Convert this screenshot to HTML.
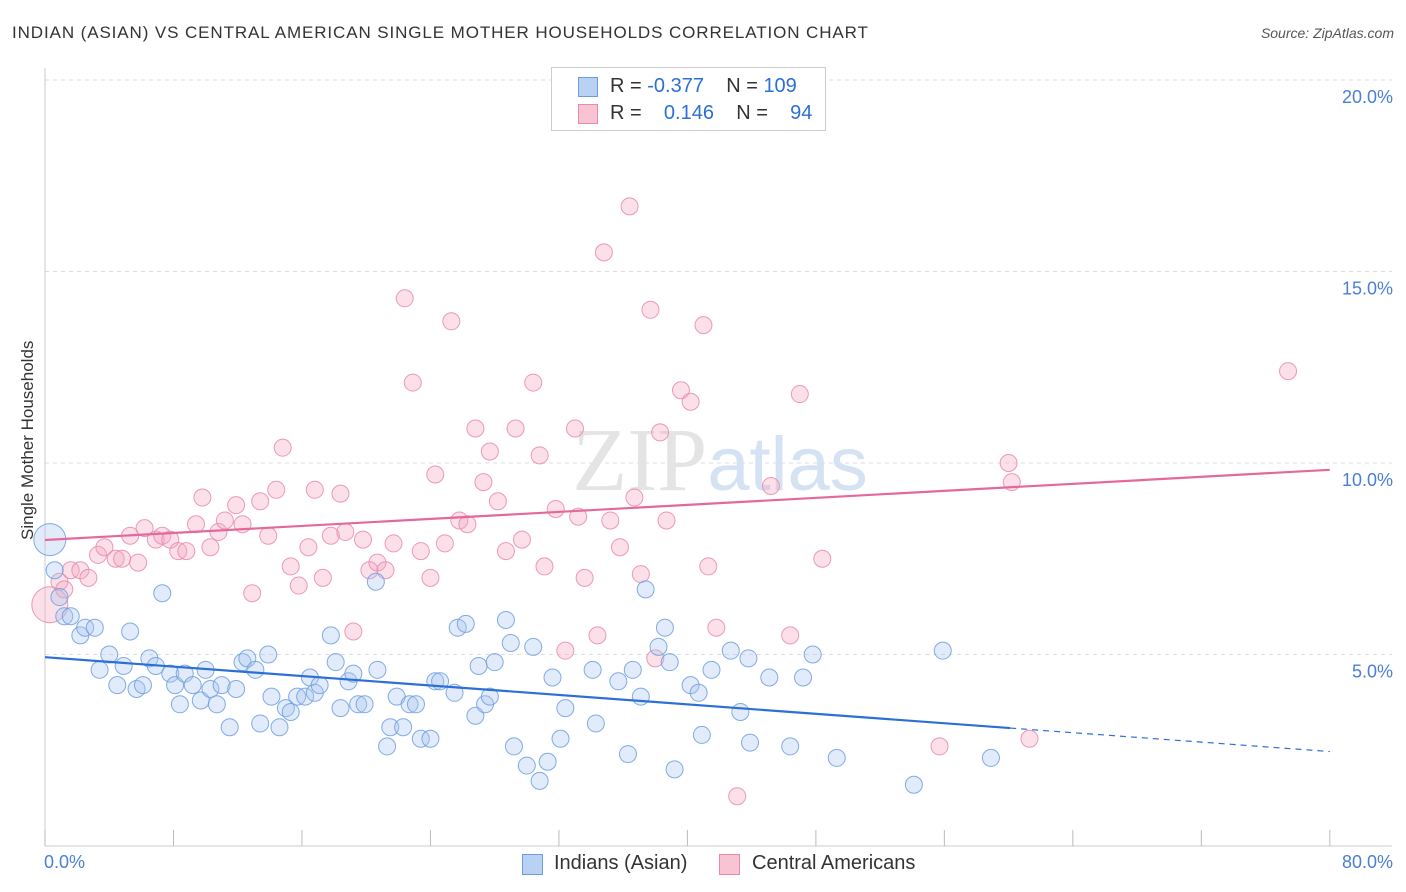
<!DOCTYPE html>
<html><head><meta charset="utf-8">
<style>
body{margin:0;background:#fff;font-family:"Liberation Sans",sans-serif;}
#wrap{position:relative;width:1406px;height:892px;overflow:hidden;}
.t{position:absolute;white-space:nowrap;}
</style></head>
<body>
<div id="wrap">
<div class="t" style="left:12px;top:23px;font-size:17px;letter-spacing:0.9px;color:#333;">INDIAN (ASIAN) VS CENTRAL AMERICAN SINGLE MOTHER HOUSEHOLDS CORRELATION CHART</div>
<div class="t" style="right:12px;top:25px;font-size:14px;color:#555;font-style:italic;">Source: ZipAtlas.com</div>
<svg id="svg" width="1406" height="892" style="position:absolute;left:0;top:0"></svg>
</div>
<script>
const blueX=[0.3,0.6,0.9,1.2,1.6,2.2,2.5,3.1,3.4,4.0,4.5,4.9,5.3,5.7,6.1,6.5,6.9,7.3,7.8,8.1,8.4,8.7,9.2,9.7,10.0,10.3,10.7,11.0,11.5,11.9,12.3,12.6,13.1,13.4,13.9,14.1,14.6,15.0,15.3,15.7,16.2,16.5,16.8,17.1,17.8,18.1,18.4,18.9,19.2,19.5,19.9,20.6,20.7,21.3,21.5,21.9,22.3,22.7,23.1,23.4,24.0,24.3,24.6,25.5,25.7,26.2,26.8,27.0,27.4,27.7,28.0,28.7,29.0,29.2,30.0,30.4,30.8,31.3,31.6,32.1,32.4,34.1,34.3,35.7,36.3,36.6,37.1,37.4,38.2,38.6,38.9,39.2,40.2,40.7,40.9,41.5,42.7,43.3,43.8,43.9,45.1,46.4,47.2,47.8,49.3,54.1,55.9,58.9];
const blueY=[8.0,7.2,6.5,6.0,6.0,5.5,5.7,5.7,4.6,5.0,4.2,4.7,5.6,4.1,4.2,4.9,4.7,6.6,4.5,4.2,3.7,4.5,4.2,3.8,4.6,4.1,3.7,4.2,3.1,4.1,4.8,4.9,4.6,3.2,5.0,3.9,3.1,3.6,3.5,3.9,3.9,4.4,4.0,4.2,5.5,4.8,3.6,4.3,4.5,3.7,3.7,6.9,4.6,2.6,3.1,3.9,3.1,3.7,3.7,2.8,2.8,4.3,4.3,4.0,5.7,5.8,3.4,4.7,3.7,3.9,4.8,5.9,5.3,2.6,2.1,5.2,1.7,2.2,4.4,2.8,3.6,4.6,3.2,4.3,2.4,4.6,3.9,6.7,5.2,5.7,4.8,2.0,4.2,4.0,2.9,4.6,5.1,3.5,4.9,2.7,4.4,2.6,4.4,5.0,2.3,1.6,5.1,2.3];
const pinkX=[0.3,0.9,1.2,1.6,2.2,2.7,3.3,3.7,4.4,4.8,5.3,5.8,6.2,6.9,7.3,7.8,8.3,8.8,9.4,9.8,10.3,10.8,11.2,11.9,12.3,12.9,13.4,13.9,14.4,14.8,15.3,15.8,16.4,16.8,17.3,17.8,18.4,18.7,19.2,19.8,20.2,20.7,21.2,21.7,22.4,22.9,23.4,24.0,24.3,24.9,25.3,25.8,26.3,26.8,27.3,27.7,28.2,28.7,29.3,29.7,30.4,30.8,31.1,31.8,32.4,33.0,33.2,33.6,34.4,34.8,35.2,35.8,36.4,36.7,37.1,37.7,38.0,38.3,38.7,39.6,40.2,41.0,41.3,41.8,43.1,45.2,46.4,47.0,48.4,55.7,60.0,60.2,61.3,77.4];
const pinkY=[6.3,6.9,6.7,7.2,7.2,7.0,7.6,7.8,7.5,7.5,8.1,7.4,8.3,8.0,8.1,8.0,7.7,7.7,8.4,9.1,7.8,8.2,8.5,8.9,8.4,6.6,9.0,8.1,9.3,10.4,7.3,6.8,7.8,9.3,7.0,8.1,9.2,8.2,5.6,8.0,7.2,7.4,7.2,7.9,14.3,12.1,7.7,7.0,9.7,7.9,13.7,8.5,8.4,10.9,9.5,10.3,9.0,7.7,10.9,8.0,12.1,10.2,7.3,8.8,5.1,10.9,8.6,7.0,5.5,15.5,8.5,7.8,16.7,9.1,7.1,14.0,4.9,10.8,8.5,11.9,11.6,13.6,7.3,5.7,1.3,9.4,5.5,11.8,7.5,2.6,10.0,9.5,2.8,12.4];
const yTicks=[5,10,15,20];
const yTickLabels=["5.0%","10.0%","15.0%","20.0%"];
const xTicks=[0,8,16,24,32,40,48,56,64,72,80];
const blueTrend=[4.93,-0.0308];
const pinkTrend=[7.99,0.0229];
const blueSolidEnd=60.1;

const X=v=>45+v*16.06, Y=v=>846-v*38.3;
const svg=document.getElementById('svg'), NS='http://www.w3.org/2000/svg';
function mk(tag,attrs,parent){const e=document.createElementNS(NS,tag);for(const k in attrs)e.setAttribute(k,attrs[k]);(parent||svg).appendChild(e);return e;}
yTicks.forEach((t,i)=>{
 const g=mk('line',{x1:45,x2:1392,y1:Y(t),y2:Y(t),stroke:'#ddd','stroke-dasharray':'4,4'});
 
 
 const tx=mk('text',{x:1393,y:Y(t)+23,'text-anchor':'end',fill:'#4a7fd6','font-size':18,'font-family':'Liberation Sans'});
 tx.textContent=yTickLabels[i];
 
 
});
const topGrid=mk('line',{x1:45,x2:1392,y1:80,y2:80,stroke:'#ddd','stroke-dasharray':'4,4'});


const ya=mk('line',{x1:45,x2:45,y1:68,y2:846,stroke:'#ccc'});


const xa=mk('line',{x1:45,x2:1392,y1:846,y2:846,stroke:'#ccc'});


xTicks.forEach(t=>{
 const l=mk('line',{x1:X(t),x2:X(t),y1:830,y2:846,stroke:'#bbb'});
 
 
});
const wm=mk('text',{x:720,y:490,'text-anchor':'middle','font-size':90,'font-family':'Liberation Serif',fill:'#e4e4e4'});
wm.innerHTML='ZIP<tspan fill="#d4e2f4" font-family="Liberation Sans" font-size="76">atlas</tspan>';


function pts(xs,ys,fill,stroke,name){
 xs.forEach((x,i)=>{
  const r=(i===0)?(name==='blue-point'?16:18):8.5;
  const c=mk('circle',{cx:X(x),cy:Y(ys[i]),r:r,fill:fill,stroke:stroke,'stroke-width':1,'fill-opacity':0.35,'stroke-opacity':0.85});
  
  
 });
}
pts(pinkX,pinkY,'#f4a7bf','#e98aa9','pink-point');
pts(blueX,blueY,'#a9c6ef','#6d9de0','blue-point');
const bt=x=>blueTrend[0]+blueTrend[1]*x, pt=x=>pinkTrend[0]+pinkTrend[1]*x;
const bl=mk('line',{x1:X(0),y1:Y(bt(0)),x2:X(blueSolidEnd),y2:Y(bt(blueSolidEnd)),stroke:'#2c6fd6','stroke-width':2.2});


const bd=mk('line',{x1:X(blueSolidEnd),y1:Y(bt(blueSolidEnd)),x2:X(80),y2:Y(bt(80)),stroke:'#2c6fd6','stroke-width':1.2,'stroke-dasharray':'6,5'});


const pl=mk('line',{x1:X(0),y1:Y(pt(0)),x2:X(80),y2:Y(pt(80)),stroke:'#e4699a','stroke-width':2.2});


</script>
<div class="t" style="left:-57px;top:445px;font-size:17px;color:#333;transform:rotate(-90deg);width:170px;text-align:center;">Single Mother Households</div>
<div class="t" style="left:44px;top:852px;font-size:18px;color:#4a7fd6;">0.0%</div>
<div class="t" style="right:13px;top:852px;font-size:18px;color:#4a7fd6;">80.0%</div>
<div style="position:absolute;left:551px;top:67px;width:273px;height:62px;border:1px solid #ccc;background:#fff;font-size:20px;color:#333;">
 <div style="position:absolute;left:26px;top:9px;width:18px;height:18px;background:#b9d2f3;border:1px solid #6d9de0;"></div>
 <div class="t" style="left:58px;top:7px;">R = <span style="color:#2c6fd6">-0.377</span>&nbsp;&nbsp;&nbsp;&nbsp;N = <span style="color:#2c6fd6">109</span></div>
 <div style="position:absolute;left:26px;top:36px;width:18px;height:18px;background:#f8c3d3;border:1px solid #e98aa9;"></div>
 <div class="t" style="left:58px;top:34px;">R = &nbsp;&nbsp;&nbsp;<span style="color:#2c6fd6">0.146</span>&nbsp;&nbsp;&nbsp;&nbsp;N = &nbsp;&nbsp;&nbsp;<span style="color:#2c6fd6">94</span></div>
</div>
<div style="position:absolute;left:522px;top:852px;font-size:20px;color:#333;">
 <div style="position:absolute;left:0;top:2px;width:19px;height:19px;background:#b9d2f3;border:1px solid #6d9de0;"></div>
 <div class="t" style="left:32px;top:0;">Indians (Asian)</div>
 <div style="position:absolute;left:197px;top:2px;width:19px;height:19px;background:#f8c3d3;border:1px solid #e98aa9;"></div>
 <div class="t" style="left:230px;top:0;">Central Americans</div>
</div>
</body></html>
